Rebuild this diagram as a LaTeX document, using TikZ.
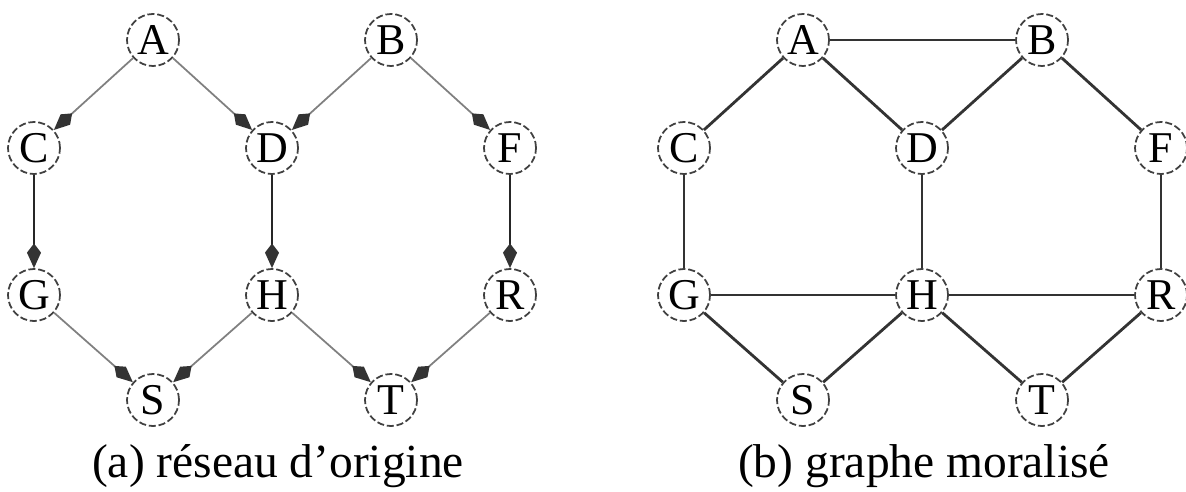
\documentclass[tikz,border=0pt]{standalone}
\usepackage{fontspec}
\setmainfont{Liberation Serif}
\usetikzlibrary{arrows.meta}

\begin{document}
\begin{tikzpicture}[x=0.01cm,y=-0.01cm,
  var/.style={draw=black!75, dash pattern=on 2pt off 0.8pt, line width=0.5pt, circle, minimum size=0.52cm, inner sep=0pt, font=\fontsize{12.5}{14}\selectfont},
  dir/.style={draw=black!50, line width=0.5pt, -{Kite[length=7pt,width=4pt,inset=2.6pt,color=black!80]}},
  dirv/.style={dir, draw=black!85, line width=0.8pt},
  und/.style={draw=black!80, line width=0.8pt},
  caption/.style={anchor=base, font=\fontsize{13.5}{16}\selectfont}]
\useasboundingbox (0,0) rectangle (1186,491);

% (a) original network
\node[var] (aA) at (153,40) {A};
\node[var] (aB) at (391,40) {B};
\node[var] (aC) at (34,148) {C};
\node[var] (aD) at (272,148) {D};
\node[var] (aF) at (510,148) {F};
\node[var] (aG) at (34,295) {G};
\node[var] (aH) at (272,295) {H};
\node[var] (aR) at (510,295) {R};
\node[var] (aS) at (153,400) {S};
\node[var] (aT) at (391,400) {T};
\draw[dir] (aA) -- (aC);
\draw[dir] (aA) -- (aD);
\draw[dir] (aB) -- (aD);
\draw[dir] (aB) -- (aF);
\draw[dirv] (aC) -- (aG);
\draw[dirv] (aD) -- (aH);
\draw[dirv] (aF) -- (aR);
\draw[dir] (aG) -- (aS);
\draw[dir] (aH) -- (aS);
\draw[dir] (aH) -- (aT);
\draw[dir] (aR) -- (aT);
\node[caption] (capa) at (278,477) {(a) réseau d'origine};

% (b) moral graph
\node[var] (bA) at (803,40) {A};
\node[var] (bB) at (1042,40) {B};
\node[var] (bC) at (684,148) {C};
\node[var] (bD) at (922,148) {D};
\node[var] (bF) at (1161,148) {F};
\node[var] (bG) at (684,295) {G};
\node[var] (bH) at (922,295) {H};
\node[var] (bR) at (1161,295) {R};
\node[var] (bS) at (803,400) {S};
\node[var] (bT) at (1042,400) {T};
\draw[und] (bA) -- (bB);
\draw[und] (bA) -- (bC);
\draw[und] (bA) -- (bD);
\draw[und] (bB) -- (bD);
\draw[und] (bB) -- (bF);
\draw[und] (bC) -- (bG);
\draw[und] (bD) -- (bH);
\draw[und] (bF) -- (bR);
\draw[und] (bG) -- (bH);
\draw[und] (bH) -- (bR);
\draw[und] (bG) -- (bS);
\draw[und] (bH) -- (bS);
\draw[und] (bH) -- (bT);
\draw[und] (bR) -- (bT);
\node[caption] (capb) at (924,477) {(b) graphe moralisé};
\end{tikzpicture}
\end{document}
